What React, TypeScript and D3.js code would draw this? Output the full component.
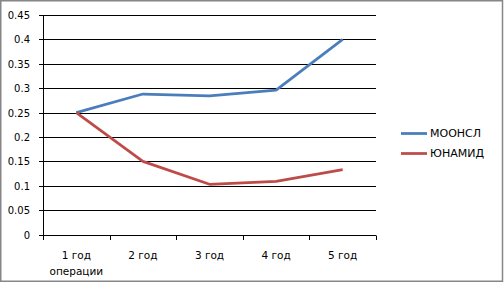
import React from "react";
import * as d3 from "d3";

const categories = ["1 год|операции", "2 год", "3 год", "4 год", "5 год"];
const moonsl = [0.25, 0.288, 0.284, 0.296, 0.4];
const unamid = [0.25, 0.15, 0.103, 0.109, 0.133];
const yTicks = [0, 0.05, 0.1, 0.15, 0.2, 0.25, 0.3, 0.35, 0.4, 0.45];
const seriesNames = ["МООНСЛ", "ЮНАМИД"];
const colors = ["#4A7EBB", "#BE4B48"];

const W = 504;
const H = 282;
const left = 43;
const right = 376;
const top = 15;
const bottom = 234.5;

export default function App() {
  const x = d3.scaleBand<string>().domain(categories).range([left, right]);
  const y = d3.scaleLinear().domain([0, 0.45]).range([bottom, top]);
  const font = "'DejaVu Sans', Verdana, sans-serif";
  const line = d3
    .line<number>()
    .x((_, i) => (x(categories[i]) as number) + x.bandwidth() / 2)
    .y((d) => y(d));
  const series = [moonsl, unamid];
  const ticksX = [...categories.map((c) => x(c) as number), right];
  return (
    <svg
      width={W}
      height={H}
      style={{ position: "fixed", left: 0, top: 0, background: "#fff" }}
      fontFamily={font}
    >
      <rect x={0} y={0} width={W} height={H} fill="#fff" />
      {yTicks.map((t) => (
        <g key={t}>
          <line
            x1={left - 4}
            x2={right}
            y1={Math.round(y(t)) + 0.5}
            y2={Math.round(y(t)) + 0.5}
            stroke="#000"
            strokeWidth={1}
          />
          <text
            x={30}
            y={Math.round(y(t)) + 0.5}
            dy="0.35em"
            textAnchor="end"
            fontSize={10}
            fill="#000"
          >
            {t}
          </text>
        </g>
      ))}
      <line x1={left + 0.5} x2={left + 0.5} y1={top} y2={Math.round(bottom) + 0.5} stroke="#000" />
      {ticksX.map((tx, i) => (
        <line
          key={i}
          x1={Math.round(tx) + 0.5}
          x2={Math.round(tx) + 0.5}
          y1={Math.round(bottom) + 0.5}
          y2={Math.round(bottom) + 5}
          stroke="#000"
        />
      ))}
      {categories.map((c) => {
        const parts = c.split("|");
        const cx = (x(c) as number) + x.bandwidth() / 2;
        return (
          <text key={c} x={cx} y={259} textAnchor="middle" fontSize={10.5} fill="#000">
            {parts.map((p, j) => (
              <tspan key={j} x={cx} dy={j === 0 ? 0 : 16}>
                {p}
              </tspan>
            ))}
          </text>
        );
      })}
      {series.map((s, i) => (
        <path
          key={i}
          d={line(s) as string}
          fill="none"
          stroke={colors[i]}
          strokeWidth={2.75}
          strokeLinejoin="round"
        />
      ))}
      {seriesNames.map((n, i) => (
        <g key={n}>
          <line
            x1={401}
            x2={427}
            y1={133.5 + i * 20}
            y2={133.5 + i * 20}
            stroke={colors[i]}
            strokeWidth={2.75}
          />
          <text x={430} y={133.5 + i * 20} dy="0.35em" fontSize={11} fill="#000">
            {n}
          </text>
        </g>
      ))}
      <rect
        x={0.75}
        y={0.75}
        width={W - 2.25}
        height={H - 1.5}
        fill="none"
        stroke="#868686"
        strokeWidth={1.5}
      />
    </svg>
  );
}
